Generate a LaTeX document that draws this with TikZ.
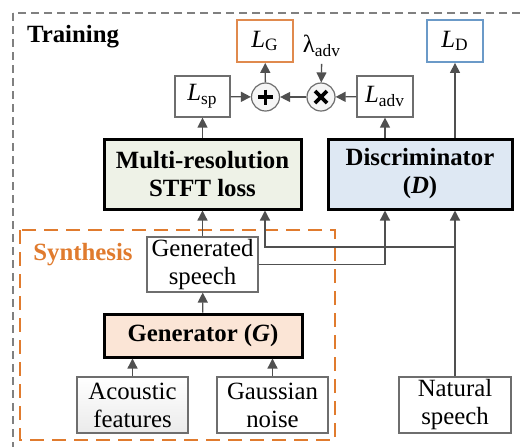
\documentclass[tikz,border=0pt]{standalone}
\usepackage{fontspec}
\setmainfont{Liberation Serif}
\usetikzlibrary{arrows.meta}

\definecolor{lineg}{HTML}{505050}
\definecolor{boxg}{HTML}{6E6E6E}
\definecolor{orng}{HTML}{E07B2E}
\definecolor{lgorng}{HTML}{E08A4E}
\definecolor{ldblue}{HTML}{6B9AC8}
\definecolor{mrsfill}{HTML}{EEF2E7}
\definecolor{disfill}{HTML}{DEE8F3}
\definecolor{genfill}{HTML}{FBE5D6}

\newcommand{\Lsub}[1]{\textit{L}\textsubscript{#1}}

\tikzset{
    every node/.style={font=\fontsize{12.4}{14}\selectfont},
    thinbox/.style={draw=boxg, line width=.6pt, align=center, inner sep=0pt},
    bigbox/.style={draw=black, line width=1.5pt, align=center, inner sep=0pt,
        font=\bfseries\fontsize{12.4}{14}\selectfont},
    opcirc/.style={circle, draw=boxg, fill=gray!8, line width=.6pt,
        minimum size=14pt, inner sep=0pt},
    arr/.style={->, draw=lineg, line width=.65pt},
}

\begin{document}
\begin{tikzpicture}[x=.5pt,y=-.5pt,>={Triangle[length=5pt,width=5pt]}]
    \useasboundingbox (0,0) rectangle (520,446);
    \draw[gray, line width=.65pt, dash pattern=on 4pt off 2.5pt]
        (13,13) rectangle (560,480);
    \draw[orng, line width=1.25pt, dash pattern=on 7pt off 4pt]
        (20,230) rectangle (335,440);
    \path[nodes={font=\bfseries\fontsize{12.4}{14}\selectfont}]
        (73,37) node (traintxt) {Training}
        (83,255) node[text=orng] (synthtxt) {Synthesis};

    % losses on top
    \node[thinbox, draw=lgorng, line width=.9pt, minimum width=28pt, minimum height=21pt]
        (lg) at (265,41) {\Lsub{G}};
    \node[thinbox, draw=ldblue, line width=.9pt, minimum width=28pt, minimum height=21pt]
        (ld) at (455,41) {\Lsub{D}};
    \node (lam) at (322,46) {λ\textsubscript{adv}};
    \node[thinbox, minimum width=27.5pt, minimum height=20.5pt] (lsp) at (202.5,96.5) {\Lsub{sp}};
    \node[thinbox, minimum width=28pt, minimum height=20.5pt] (ladv) at (385,96.5) {\Lsub{adv}};
    \node[opcirc] (plus) at (265.5,97) {};
    \node[opcirc] (times) at (321,97) {};
    \draw[line width=1.8pt] (plus.center) ++(-7.5,0) -- ++(15,0)
        (plus.center) ++(0,-7.5) -- ++(0,15);
    \draw[line width=1.8pt] (times.center) ++(-6,-6) -- ++(12,12)
        (times.center) ++(-6,6) -- ++(12,-12);

    % main blocks
    \node[bigbox, fill=mrsfill, minimum width=98.5pt, minimum height=35pt]
        (mrs) at (202.5,174) {Multi-resolution\\STFT loss};
    \node[bigbox, fill=disfill, minimum width=92pt, minimum height=35pt]
        (dis) at (420,174) {Discriminator\\(\textit{D})};
    \node[thinbox, minimum width=55.5pt, minimum height=27.5pt]
        (gen) at (202.5,264.5) {Generated\\speech};
    \node[bigbox, fill=genfill, minimum width=99pt, minimum height=21.5pt]
        (genr) at (203,335.5) {Generator (\textit{G})};
    \node[thinbox, top color=white, bottom color=gray!16, minimum width=55.5pt, minimum height=28pt]
        (ac) at (132.5,405) {Acoustic\\features};
    \node[thinbox, minimum width=55.5pt, minimum height=28pt]
        (gn) at (272.5,405) {Gaussian\\noise};
    \node[thinbox, minimum width=56pt, minimum height=28pt]
        (nat) at (455,405) {Natural\\speech};

    % connections
    \coordinate (split) at (455,247);
    \draw[arr] (ac) -- (ac |- genr.south);
    \draw[arr] (gn) -- (gn |- genr.south);
    \draw[arr] (genr) -- (gen);
    \draw[arr] (gen) -- (mrs);
    \draw[arr] (gen.east) -| (dis.south -| ladv);
    \draw[arr] (nat) -- (split) -- (dis.south -| split);
    \draw[arr] (split) -| (mrs.south -| lg);
    \draw[arr] (mrs.north -| lsp) -- (lsp);
    \draw[arr] (dis.north -| ladv) -- (ladv);
    \draw[arr] (dis.north -| ld) -- (ld);
    \draw[arr] (lsp) -- (plus);
    \draw[arr] (times) -- (plus);
    \draw[arr] (ladv) -- (times);
    \draw[arr] (plus) -- (lg);
    \draw[arr] (lam) -- (times);
\end{tikzpicture}
\end{document}
